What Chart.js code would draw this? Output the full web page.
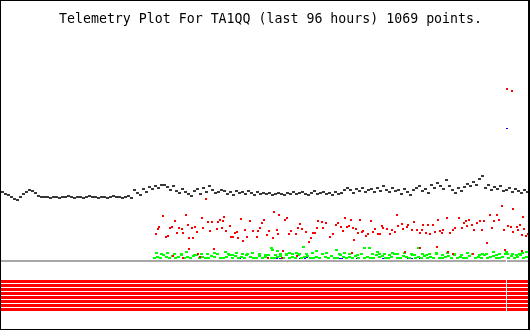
<!DOCTYPE html>
<html><head><meta charset="utf-8">
<script src="https://cdn.jsdelivr.net/npm/chart.js@4/dist/chart.umd.min.js"></script>
<style>
html,body{margin:0;padding:0;background:#fff;}
#wrap{position:relative;width:530px;height:330px;}
#c{position:absolute;left:0;top:0;}
#frame{position:absolute;left:0;top:0;width:530px;height:330px;box-sizing:border-box;border:1px solid #000;border-right-width:2px;pointer-events:none;}
</style></head><body>
<div id="wrap"><canvas id="c" width="530" height="330"></canvas><div id="frame"></div></div>
<script>
const titleText = 'Telemetry Plot For TA1QQ (last 96 hours) 1069 points.';

// time axis: slots across the 96 hours (0..530), value axis: raw telemetry counts
const blackStep = 3;
const blackValues = [
137,138,136,135,133,131,130,133,136,138,
140,139,137,134,133,133,133,132,133,133,
132,133,133,134,133,132,133,133,132,133,
134,133,133,132,133,133,132,133,134,133,
133,132,133,134,132,140,137,135,141,138,
143,141,144,142,145,145,143,140,144,139,
137,141,138,136,134,139,141,136,142,138,
144,140,137,138,140,139,136,138,135,139,
137,138,136,139,137,135,138,136,137,136,
137,135,136,137,136,135,137,136,138,136,
137,138,136,135,137,139,136,137,138,136,
137,135,138,136,137,140,142,140,137,141,
139,142,138,140,141,138,142,139,144,140,
138,142,139,140,136,141,138,135,140,142,
144,139,141,137,145,142,147,144,141,150,
144,140,137,142,139,143,146,144,148,145,
151,154,142,145,140,143,141,144,139,140,
142,138,141,139,137,140,138
];

const redPoints = [
[156,96],[158,101],[159,103],[163,114],[166,93],[168,94],[170,102],[172,103],[173,74],[175,109],
[177,97],[179,102],[182,101],[183,97],[183,72],[186,115],[188,105],[189,92],[189,81],[192,102],
[193,92],[195,103],[197,98],[198,76],[200,73],[202,112],[203,102],[206,131],[208,108],[210,99],
[212,108],[214,81],[217,101],[218,108],[220,110],[222,102],[223,109],[224,113],[226,99],[230,104],
[231,93],[233,93],[235,97],[237,98],[238,92],[241,111],[243,89],[245,100],[247,93],[250,109],
[253,99],[257,93],[258,99],[260,102],[262,107],[264,110],[267,95],[268,72],[269,99],[273,92],
[274,118],[277,100],[278,96],[279,115],[282,72],[283,79],[285,110],[287,112],[289,96],[291,99],
[296,96],[297,74],[298,102],[300,106],[302,101],[306,98],[309,88],[311,92],[313,97],[315,97],
[317,102],[318,109],[322,108],[323,102],[326,107],[330,93],[333,96],[336,105],[338,107],
[341,103],[343,99],[345,112],[347,103],[349,104],[351,110],[352,77],[353,102],[354,90],[356,101],
[358,97],[360,110],[362,98],[363,99],[366,94],[368,96],[371,109],[373,98],[375,101],[378,96],
[380,96],[382,104],[383,102],[387,101],[390,96],[392,100],[395,98],[397,115],[398,104],[402,106],
[403,101],[405,78],[407,103],[408,105],[412,100],[414,108],[417,100],[420,97],[420,82],[422,100],
[423,105],[426,97],[428,105],[430,96],[433,105],[435,98],[437,83],[438,110],[440,99],[442,97],
[443,100],[447,112],[448,78],[450,97],[453,100],[453,76],[455,102],[459,112],[462,102],[464,107],
[466,109],[467,104],[469,110],[472,105],[473,76],[474,100],[477,107],[480,109],[482,100],[484,109],
[487,87],[490,115],[492,102],[494,109],[497,115],[499,110],[502,124],[504,100],[505,80],[507,241],
[508,104],[511,103],[512,239],[513,121],[513,98],[517,103],[518,100],[520,105],[522,95],[522,79],
[523,113],[524,101],[526,94],[528,96]
];

const greenStart = 155;
const greenStep = 3;
const greenLowValues = [
72,73,72,75,73,72,74,72,73,76,
72,73,72,74,75,72,73,72,72,74,
73,76,72,72,73,75,72,74,72,73,
72,76,73,72,72,74,72,73,75,72,
72,73,74,72,76,72,73,72,75,72,
73,74,72,72,73,72,76,73,72,74,
72,72,75,73,72,73,72,74,72,76,
72,73,72,72,75,73,74,72,72,73,
76,72,72,74,73,72,75,72,73,72,
74,72,73,72,76,72,72,73,74,72,
75,72,73,72,72,74,76,72,73,72,
75,72,73,74,72,72,73,76,72,74,
72,73,75,72,73
];
const greenHighPoints = [
[157,77],[162,76],[168,77],[175,76],[182,75],[187,78],[195,75],[202,76],[208,76],[215,77],
[226,78],[229,76],[233,75],[237,77],[243,76],[247,75],[253,77],[260,76],[266,75],[272,82],
[273,80],[276,75],[278,79],[281,76],[287,75],[290,77],[293,76],[297,77],[300,76],[304,83],
[307,76],[313,77],[317,79],[323,76],[327,77],[337,80],[340,76],[345,77],[350,76],[358,75],
[365,82],[370,82],[373,76],[378,78],[380,76],[385,76],[390,75],[393,77],[398,76],[405,77],
[412,76],[415,75],[419,82],[423,76],[427,75],[430,76],[437,77],[443,75],[448,77],[455,76],
[462,75],[468,77],[473,76],[480,75],[483,76],[487,76],[494,78],[497,75],[500,76],[507,78],
[508,76],[513,76],[517,75],[520,76],[523,77],[527,78]
];

const bluePoints = [
[200,72],[203,72],[220,71],[240,71],[277,71],[280,71],[289,72],[300,71],[305,71],[307,72],
[340,71],[342,71],[357,71],[372,71],[383,71],[397,71],[408,71],[412,71],[420,71],[507,201]
];

const baselineValue = 69;
const digitalBits = [1,1,1,1,1,1,1,1];
const dataGap = [506, 507];
const timeEnd = 530;

function marker(w, h, fw, fh, color) {
  const c = document.createElement('canvas');
  c.width = w; c.height = h;
  const g = c.getContext('2d');
  g.fillStyle = color;
  g.fillRect(0, 0, fw, fh);
  return c;
}
const pairs = arr => arr.map(p => ({x: p[0], y: p[1]}));
const segLine = v => [{x: 0, y: v}, {x: dataGap[0], y: v}, {x: (dataGap[0] + dataGap[1]) / 2, y: null}, {x: dataGap[1], y: v}, {x: timeEnd, y: v}];

const datasets = [];
datasets.push({label: 'ch1', data: blackValues.map((v, i) => ({x: i * blackStep, y: v})),
  pointStyle: marker(4, 2, 3, 2, '#383838'), pointRadius: 1, order: 1});
datasets.push({label: 'ch2', data: pairs(redPoints),
  pointStyle: marker(2, 2, 2, 2, '#ff0000'), pointRadius: 1, order: 2});
datasets.push({label: 'ch3', data: greenLowValues.map((v, i) => ({x: greenStart + i * greenStep, y: v})).concat(pairs(greenHighPoints)),
  pointStyle: marker(4, 2, 3, 2, '#00ff00'), pointRadius: 1, order: 3});
datasets.push({label: 'ch4', data: pairs(bluePoints),
  pointStyle: marker(2, 2, 2, 1, '#0000ff'), pointRadius: 1, order: 4});
datasets.push({label: 'base', data: segLine(baselineValue), showLine: true, pointRadius: 0,
  borderColor: '#a8a8a8', borderWidth: 2, spanGaps: false, order: 10});
digitalBits.forEach((b, i) => {
  datasets.push({label: 'bit' + (i + 1), data: segLine(48.5 - 4 * i), showLine: true, pointRadius: 0,
    borderColor: b ? '#ff0000' : '#ffffff', borderWidth: 3, spanGaps: false, order: 11});
});

const titlePlugin = {
  id: 'plotTitle',
  afterDraw(chart) {
    const ctx = chart.ctx;
    ctx.save();
    ctx.font = '14px "DejaVu Sans Mono"';
    ctx.fillStyle = '#000';
    ctx.textBaseline = 'alphabetic';
    ctx.textAlign = 'left';
    const w = ctx.measureText(titleText).width;
    const target = 423;
    ctx.translate(59, 23);
    ctx.scale(target / w, 1.05);
    ctx.fillText(titleText, 0, 0);
    ctx.restore();
  }
};

new Chart(document.getElementById('c'), {
  type: 'scatter',
  data: {datasets},
  options: {
    responsive: false, animation: false, events: [],
    layout: {autoPadding: false, padding: {top: 30, left: 0, right: 0, bottom: 0}},
    plugins: {legend: {display: false}, tooltip: {enabled: false}, title: {display: false}},
    scales: {
      x: {type: 'linear', min: 0, max: timeEnd, display: false},
      y: {type: 'linear', min: 0, max: 300, display: false}
    }
  },
  plugins: [titlePlugin]
});
</script>
</body></html>
